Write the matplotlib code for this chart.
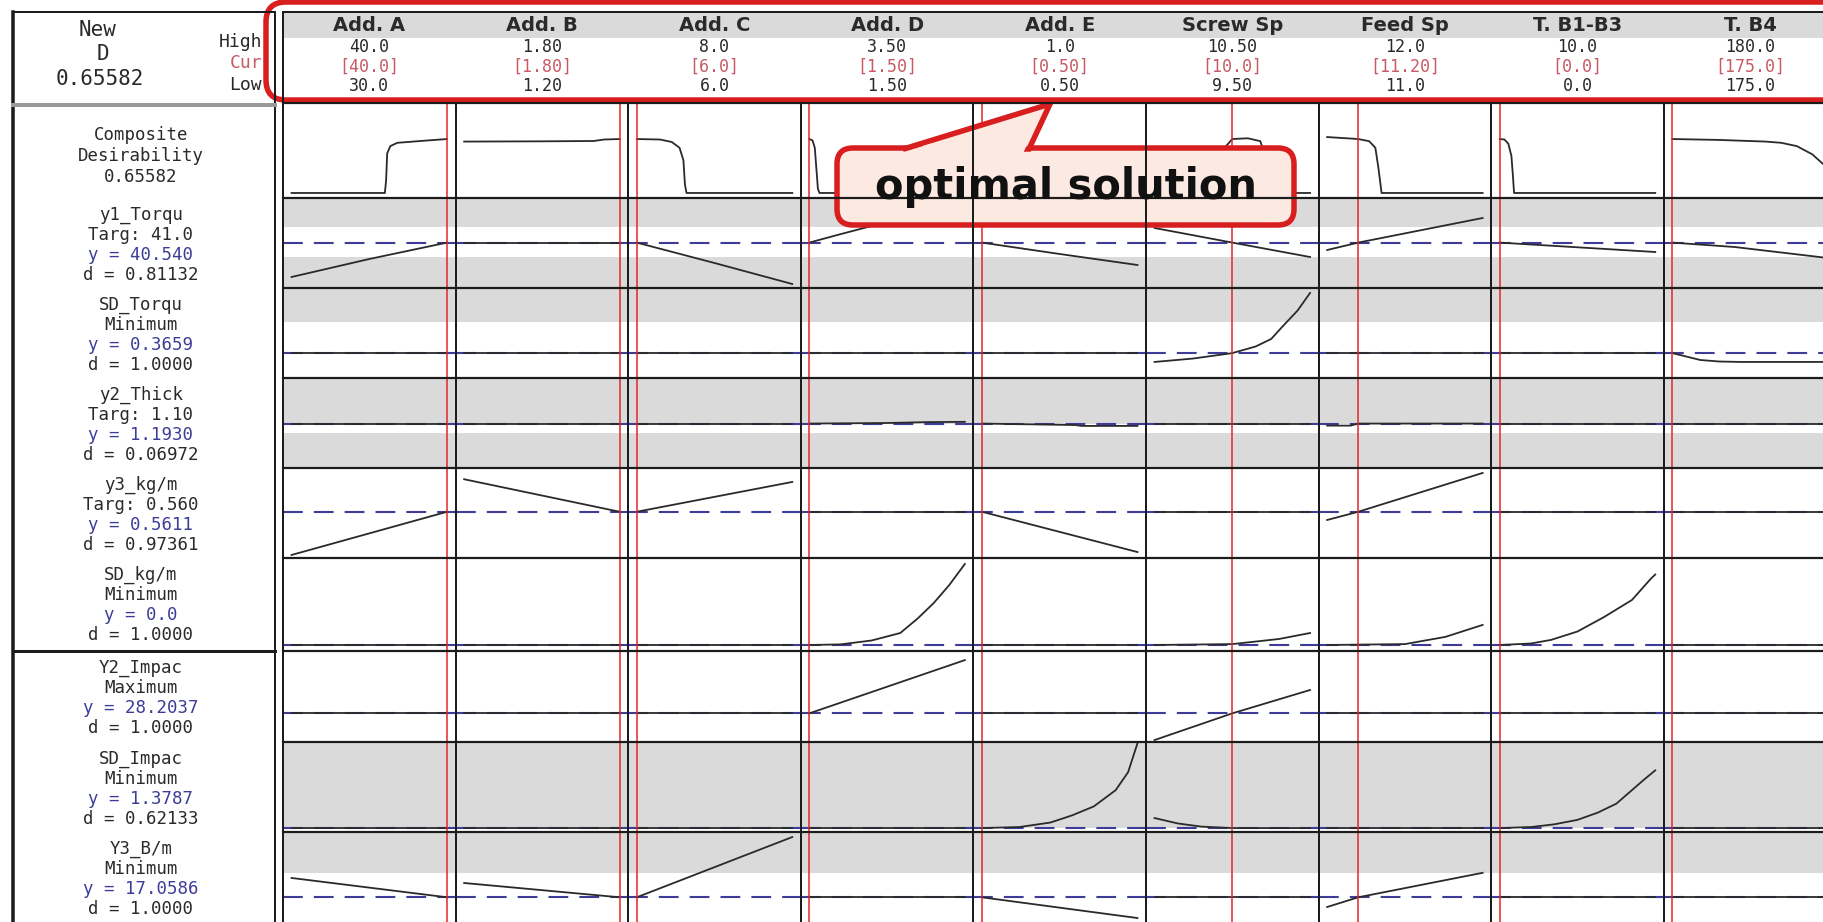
import matplotlib.pyplot as plt
from matplotlib.patches import FancyBboxPatch, Polygon, Rectangle

# ---- factor settings (header of the optimizer plot) ----
factors = ["Add. A", "Add. B", "Add. C", "Add. D", "Add. E",
           "Screw Sp", "Feed Sp", "T. B1-B3", "T. B4"]
low = [30.0, 1.20, 6.0, 1.50, 0.50, 9.50, 11.0, 0.0, 175.0]
high = [40.0, 1.80, 8.0, 3.50, 1.0, 10.50, 12.0, 10.0, 180.0]
cur = [40.0, 1.80, 6.0, 1.50, 0.50, 10.0, 11.20, 0.0, 175.0]
high_txt = ["40.0", "1.80", "8.0", "3.50", "1.0", "10.50", "12.0", "10.0", "180.0"]
cur_txt = ["[40.0]", "[1.80]", "[6.0]", "[1.50]", "[0.50]", "[10.0]", "[11.20]", "[0.0]", "[175.0]"]
low_txt = ["30.0", "1.20", "6.0", "1.50", "0.50", "9.50", "11.0", "0.0", "175.0"]

# ---- responses ----
responses = ["y1_Torqu", "SD_Torqu", "y2_Thick", "y3_kg/m",
             "SD_kg/m", "Y2_Impac", "SD_Impac", "Y3_B/m"]
goals = ["Targ: 41.0", "Minimum", "Targ: 1.10", "Targ: 0.560",
         "Minimum", "Maximum", "Minimum", "Minimum"]
y_cur = [40.540, 0.3659, 1.1930, 0.5611, 0.0, 28.2037, 1.3787, 17.0586]
y_txt = ["y = 40.540", "y = 0.3659", "y = 1.1930", "y = 0.5611",
         "y = 0.0", "y = 28.2037", "y = 1.3787", "y = 17.0586"]
d_txt = ["d = 0.81132", "d = 1.0000", "d = 0.06972", "d = 0.97361",
         "d = 1.0000", "d = 1.0000", "d = 0.62133", "d = 1.0000"]
y_lims = [(36, 45), (0.2, 0.8), (1.04, 1.35), (0.52, 0.60),
          (-0.02, 0.29), (26, 33), (1.335, 2.335), (15, 22.5)]
grey_bands = [[(42.1, 45), (36, 39.1)], [(0.573, 0.8)],
              [(1.193, 1.35), (1.04, 1.16)], [], [], [],
              [(1.3787, 2.335)], [(19.08, 22.5)]]

composite_D = "0.65582"
comp_lim = (-0.061, 1.094)
comp_curves = [
    ([30, 36.0, 36.08, 36.15, 36.35, 36.8, 38.5, 40], [0, 0, 0.15, 0.48, 0.57, 0.61, 0.635, 0.656]),
    ([1.2, 1.5, 1.7, 1.74, 1.8], [0.625, 0.628, 0.632, 0.65, 0.656]),
    ([6, 6.3, 6.45, 6.55, 6.6, 6.62, 6.64, 8], [0.656, 0.65, 0.62, 0.55, 0.4, 0.1, 0, 0]),
    ([1.5, 1.54, 1.57, 1.59, 1.61, 1.63, 3.5], [0.656, 0.64, 0.55, 0.3, 0.05, 0, 0]),
    ([0.5, 0.51, 0.52, 0.53, 0.54, 1.0], [0.656, 0.63, 0.5, 0.2, 0, 0]),
    ([9.5, 9.85, 9.9, 9.95, 10.0, 10.1, 10.18, 10.22, 10.27, 10.5], [0, 0, 0.2, 0.55, 0.656, 0.665, 0.63, 0.4, 0, 0]),
    ([11, 11.2, 11.27, 11.31, 11.33, 11.35, 12], [0.68, 0.656, 0.63, 0.55, 0.3, 0, 0]),
    ([0, 0.3, 0.55, 0.75, 0.85, 0.92, 10], [0.656, 0.65, 0.6, 0.45, 0.2, 0, 0]),
    ([175, 176.5, 178, 178.5, 179, 179.5, 180], [0.656, 0.645, 0.625, 0.61, 0.57, 0.47, 0.3]),
]

# None = response does not change with that factor
y1_curves = [([30, 35, 40], [37.1, 38.9, 40.54]), None,
             ([6, 7, 8], [40.54, 38.5, 36.4]),
             ([1.5, 1.86, 2.3, 3.5], [40.54, 41.3, 42.2, 44.0]),
             ([0.5, 0.75, 1.0], [40.54, 39.4, 38.3]),
             ([9.5, 10.0, 10.5], [42.0, 40.54, 39.1]),
             ([11, 11.2, 12], [39.8, 40.54, 43.0]),
             ([0, 10], [40.54, 39.6]),
             ([175, 177, 180], [40.54, 40.1, 39.0])]
sdt_curves = [None, None, None, None, None,
              ([9.5, 9.75, 10.0, 10.15, 10.25, 10.32, 10.42, 10.5],
               [0.307, 0.33, 0.366, 0.41, 0.46, 0.54, 0.65, 0.767]),
              None, None,
              ([175, 175.9, 176.5, 177.2, 180], [0.366, 0.32, 0.31, 0.307, 0.307])]
y2_curves = [None, None, None,
             ([1.5, 2.5, 3.0, 3.5], [1.193, 1.195, 1.198, 1.199]),
             ([0.5, 0.8, 0.82, 1.0], [1.193, 1.188, 1.185, 1.185]),
             None,
             ([11, 11.15, 11.2, 12], [1.186, 1.186, 1.193, 1.193]),
             None, None]
y3_curves = [([30, 40], [0.5227, 0.5611]),
             ([1.2, 1.8], [0.590, 0.5611]),
             ([6, 8], [0.5611, 0.5876]),
             None,
             ([0.5, 1.0], [0.5611, 0.5253]),
             None,
             ([11, 11.2, 12], [0.5538, 0.5611, 0.5956]),
             None, None]
sdk_curves = [None, None, None,
              ([1.5, 1.9, 2.3, 2.67, 2.9, 3.1, 3.3, 3.5], [0, 0.002, 0.015, 0.04, 0.09, 0.14, 0.2, 0.27]),
              None,
              ([9.5, 10.0, 10.3, 10.5], [0, 0.003, 0.02, 0.04]),
              ([11, 11.5, 11.76, 12], [0, 0.003, 0.027, 0.067]),
              ([0, 2, 3.3, 5, 6.7, 8.5, 9.7, 10], [0, 0.005, 0.017, 0.045, 0.093, 0.15, 0.22, 0.235]),
              None]
y2i_curves = [None, None, None,
              ([1.5, 3.5], [28.2037, 32.3]),
              None,
              ([9.5, 10.0, 10.5], [26.15, 28.2037, 30.0]),
              None, None, None]
sdi_curves = [None, None, None, None,
              ([0.5, 0.62, 0.72, 0.79, 0.86, 0.93, 0.97, 1.0], [1.3787, 1.39, 1.44, 1.52, 1.62, 1.80, 2.0, 2.32]),
              ([9.5, 9.65, 9.8, 10.0, 10.5], [1.49, 1.43, 1.395, 1.3787, 1.3787]),
              None,
              ([0, 2, 3.5, 5, 6.3, 7.5, 8.5, 9.3, 10], [1.3787, 1.39, 1.42, 1.47, 1.55, 1.65, 1.8, 1.92, 2.02]),
              None]
y3b_curves = [([30, 40], [18.67, 17.0586]),
              ([1.2, 1.8], [18.25, 17.0586]),
              ([6, 8], [17.0586, 22.08]),
              None,
              ([0.5, 1.0], [17.0586, 15.33]),
              None,
              ([11, 11.2, 12], [16.25, 17.0586, 19.1]),
              None, None]
resp_curves = [y1_curves, sdt_curves, y2_curves, y3_curves,
               sdk_curves, y2i_curves, sdi_curves, y3b_curves]

# ---- layout (pixels) ----
W, H = 1823, 922
col_x0, col_w = 283, 172.6
row_edges = [103, 198, 288, 378, 468, 558, 651, 742, 832, 922]
margin = 0.055

INK = "#2a2a2a"
GREY = "#dadada"
BLUE = "#3d3d99"
RED = "#e3262a"
PINK = "#c85a64"
LINE = "#1c1c1c"
MONO = "DejaVu Sans Mono"


def pt(px):
    return px * 0.72


def fig_rect(x0, y0, x1, y1):
    return [x0 / W, 1 - y1 / H, (x1 - x0) / W, (y1 - y0) / H]


fig = plt.figure(figsize=(W / 100, H / 100), dpi=100)

# one small panel per (row, factor)
for r in range(len(row_edges) - 1):
    for c in range(len(factors)):
        ax = fig.add_axes(fig_rect(col_x0 + c * col_w, row_edges[r],
                                   col_x0 + (c + 1) * col_w, row_edges[r + 1]), zorder=1)
        ax.set_axis_off()
        span = high[c] - low[c]
        ax.set_xlim(low[c] - margin * span, high[c] + margin * span)
        if r == 0:
            ax.set_ylim(*comp_lim)
            xs, ys = comp_curves[c]
        else:
            i = r - 1
            ax.set_ylim(*y_lims[i])
            for lo, hi in grey_bands[i]:
                ax.axhspan(lo, hi, color=GREY, lw=0)
            ax.axhline(y_cur[i], color=BLUE, lw=1.5, ls=(0, (9.5, 5.3)))
            curve = resp_curves[i][c]
            if curve is None:
                xs, ys = [low[c], high[c]], [y_cur[i], y_cur[i]]
            else:
                xs, ys = curve
        ax.plot(xs, ys, color=INK, lw=1.3, solid_joinstyle="round")
        ax.axvline(cur[c], color=RED, lw=1.1)

# overlay in pixel coordinates for frame, labels and annotations
ov = fig.add_axes([0, 0, 1, 1], zorder=5)
ov.set_xlim(0, W)
ov.set_ylim(H, 0)
ov.set_axis_off()
ov.patch.set_alpha(0)

# header band and frame lines
ov.add_patch(Rectangle((col_x0, 13), W - col_x0, 25, fc=GREY, lw=0))
ov.plot([13, 13], [12, H], color=LINE, lw=pt(3.5))
ov.plot([275, 275], [12, H], color=LINE, lw=pt(2))
ov.plot([13, 275], [12, 12], color=LINE, lw=pt(2))
ov.plot([13, 275], [105, 105], color="#9a9a9a", lw=pt(4))
ov.plot([13, 275], [651, 651], color=LINE, lw=pt(3))
ov.plot([col_x0, col_x0], [12, H], color=LINE, lw=pt(2))
ov.plot([col_x0, W], [12, 12], color=LINE, lw=pt(2))
for e in row_edges[:-1]:
    ov.plot([col_x0, W], [e, e], color=LINE, lw=pt(2.2))
for c in range(1, len(factors)):
    x = col_x0 + c * col_w
    ov.plot([x, x], [row_edges[0], H], color=LINE, lw=pt(2))

# header texts
for c, name in enumerate(factors):
    xc = col_x0 + (c + 0.5) * col_w
    ov.text(xc, 25.5, name, ha="center", va="center", fontsize=14,
            fontweight="bold", color=INK)
    ov.text(xc, 47, high_txt[c], ha="center", va="center", fontsize=12, family=MONO, color=INK)
    ov.text(xc, 66.5, cur_txt[c], ha="center", va="center", fontsize=12, family=MONO, color=PINK)
    ov.text(xc, 86, low_txt[c], ha="center", va="center", fontsize=12, family=MONO, color=INK)

ov.text(98, 30, "New", ha="center", va="center", fontsize=15, family=MONO, color=INK)
ov.text(103, 54.5, "D", ha="center", va="center", fontsize=15, family=MONO, color=INK)
ov.text(100, 79, composite_D, ha="center", va="center", fontsize=15, family=MONO, color=INK)
ov.text(262, 42, "High", ha="right", va="center", fontsize=13, family=MONO, color=INK)
ov.text(262, 63.5, "Cur", ha="right", va="center", fontsize=13, family=MONO, color=PINK)
ov.text(262, 85, "Low", ha="right", va="center", fontsize=13, family=MONO, color=INK)

# row labels
lx = 141
for k, s in enumerate(["Composite", "Desirability", composite_D]):
    ov.text(lx, 135 + 21 * k, s, ha="center", va="center", fontsize=12.5, family=MONO, color=INK)
for i in range(len(responses)):
    top = row_edges[i + 1]
    lines = [(responses[i], INK), (goals[i], INK), (y_txt[i], BLUE), (d_txt[i], INK)]
    for k, (s, col) in enumerate(lines):
        ov.text(lx, top + 16.5 + 20.3 * k, s, ha="center", va="center",
                fontsize=12.5, family=MONO, color=col)

# red outline round the factor settings
ov.add_patch(FancyBboxPatch((266, 2), W, 98, boxstyle="round,pad=0,rounding_size=20",
                            fc="none", ec="#d81e1e", lw=pt(5.5), clip_on=False))

# callout
peach = "#fce9e1"
ov.add_patch(FancyBboxPatch((837, 148), 457, 77, boxstyle="round,pad=0,rounding_size=16",
                            fc=peach, ec="#d81e1e", lw=pt(5.5)))
ov.add_patch(Polygon([(903.5, 149), (1050, 104), (1029, 149)], closed=True,
                     fc=peach, ec="#d81e1e", lw=pt(5.5), joinstyle="miter"))
ov.add_patch(Polygon([(931.4, 143.5), (1027.6, 143.5), (1023.2, 153), (900.5, 153)],
                     closed=True, fc=peach, lw=0))
ov.text(1066, 187, "optimal solution", ha="center", va="center", fontsize=30,
        fontweight="bold", color="#111111")

fig.savefig("out.png", dpi=100)
